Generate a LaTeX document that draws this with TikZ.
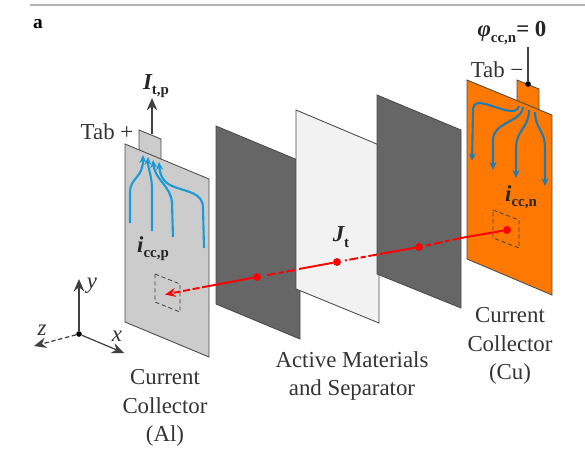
\documentclass[tikz,border=0pt]{standalone}
\usepackage{fontspec}
\setmainfont{Liberation Serif}
\usetikzlibrary{arrows.meta}
\newcommand{\lowsub}[1]{\raisebox{-0.5ex}{\fontsize{8.5}{10}\selectfont\bfseries\upshape #1}}
\begin{document}
\begin{tikzpicture}[
  x=0.02cm, y=-0.02cm,
  plate/.style={draw=black!70, line width=0.5pt},
  txt/.style={font=\fontsize{13}{16.4}\selectfont, text=black!80, align=center, inner sep=0pt},
  sym/.style={font=\fontsize{13}{16}\selectfont\bfseries\itshape, text=black!85, inner sep=0pt},
  axis/.style={-{Stealth[length=7pt,width=6pt]}, black!75, line width=0.7pt},
  window/.style={draw=black!75, dashed, dash pattern=on 2.4pt off 1.6pt, line width=0.45pt},
  bluep/.style={-{Stealth[length=4.5pt,width=4pt]}, color={rgb,255:red,26;green,154;blue,214}, line width=1.2pt},
  bluen/.style={-{Stealth[length=4.5pt,width=4pt]}, color={rgb,255:red,31;green,122;blue,184}, line width=1.2pt},
  curr/.style={red, line width=1.1pt},
  currd/.style={curr, dash pattern=on 5pt off 1.5pt on 3pt off 1.5pt},
  dot/.style={circle, fill=red, inner sep=0pt, minimum size=4.5pt},
  blackdot/.style={circle, fill=black, inner sep=0pt, minimum size=3.2pt}
]
\useasboundingbox (0,0) rectangle (585,450);
% Top rule and panel letter
\draw[black!30, line width=0.7pt] (30,5) -- (585,5);
\node[font=\fontsize{11}{13}\selectfont\bfseries, inner sep=0pt] (panel) at (38,24) {a};
% Al collector
\filldraw[plate, fill=black!20] (139,130) -- (161,139) -- (161,165) -- (139,155) -- cycle;
\filldraw[plate, fill=black!20] (125,144) -- (209,179) -- (209,357) -- (125,322) -- cycle;
\draw[window] (155,274) -- (180,284) -- (180,312) -- (155,302) -- cycle;
% Separator stack
\filldraw[plate, fill=black!60] (216,126) -- (300,161) -- (300,339) -- (216,304) -- cycle;
\filldraw[plate, fill=black!5]  (296,110) -- (379,145) -- (379,323) -- (296,289) -- cycle;
\filldraw[plate, fill=black!60] (377,95) -- (461,130) -- (461,308) -- (377,274) -- cycle;
% Cu collector
\filldraw[plate, fill=orange!95!red] (517,80) -- (539,89) -- (539,115) -- (517,105) -- cycle;
\filldraw[plate, fill=orange!95!red] (467,80) -- (552,115) -- (552,295) -- (467,259) -- cycle;
\draw[window] (493,210) -- (519,220) -- (519,248) -- (493,238) -- cycle;
% Current paths in Al
\draw[bluep] (130,223) -- (130,192) .. controls (130,178) and (143,178) .. (143,155);
\draw[bluep] (152,231) -- (152,190) .. controls (152,175) and (148,170) .. (148,157);
\draw[bluep] (173,237) -- (172,203) .. controls (171,186) and (155,180) .. (153,160);
\draw[bluep] (204,248) -- (203,208) .. controls (203,192) and (186,192) .. (172,186) .. controls (163,182) and (160,175) .. (159,162);
% Current paths in Cu
\draw[bluen] (519,106) .. controls (516,118) and (495,105) .. (480,103) .. controls (474,103) and (473,106) .. (473,112) -- (472,161);
\draw[bluen] (523,107) .. controls (522,122) and (493,122) .. (493,140) -- (493,170);
\draw[bluen] (529,110) .. controls (529,128) and (516,130) .. (516,148) -- (516,178);
\draw[bluen] (535,112) .. controls (536,132) and (545,128) .. (545,150) -- (545,186);
% Through-plane current
\node[dot] (da) at (507,230) {};
\node[dot] (db) at (419,247) {};
\node[dot] (dc) at (337,262) {};
\node[dot] (dd) at (257,277) {};
\coordinate (e1) at (461,238);
\coordinate (e2) at (426,245.5);
\coordinate (e3) at (380,254);
\coordinate (e4) at (345,260.5);
\coordinate (e5) at (377,254.5);
\coordinate (e6) at (299,269);
\coordinate (e7) at (265,275.5);
\coordinate (e8) at (295,270);
\coordinate (e9) at (209,286);
\coordinate (tip) at (165,294.5);
\draw[curr] (da) -- (e1);
\draw[currd] (e1) -- (e2);
\draw[curr] (db) -- (e3);
\draw[currd] (e5) -- (e4);
\draw[curr] (dc) -- (e6);
\draw[currd] (e8) -- (e7);
\draw[curr] (dd) -- (e9);
\draw[curr, dash pattern=on 4pt off 1.5pt, -{Stealth[length=6pt,width=5pt]}] (e9) -- (tip);
% Axes
\node[blackdot] (org) at (79,334) {};
\coordinate (ya) at (79,279);
\coordinate (xa) at (124,353);
\coordinate (za) at (34,346);
\draw[axis] (org) -- (ya);
\draw[axis] (org) -- (xa);
\draw[axis, dashed, dash pattern=on 2.5pt off 1.5pt] (org) -- (za);
\node[font=\fontsize{13}{16}\selectfont\itshape, text=black!80, inner sep=0pt] (ylab) at (92,286) {y};
\node[font=\fontsize{13}{16}\selectfont\itshape, text=black!80, inner sep=0pt] (xlab) at (117,336) {x};
\node[font=\fontsize{13}{16}\selectfont\itshape, text=black!80, inner sep=0pt] (zlab) at (42,330) {z};
% Tab terminals
\coordinate (tp) at (152,134);
\coordinate (tq) at (152,98);
\draw[axis] (tp) -- (tq);
\node[blackdot] (tn) at (528,84) {};
\coordinate (tm) at (528,47);
\draw[black!75, line width=0.7pt] (tm) -- (tn);
% Labels
\node[sym] (itp) at (156,86) {I\lowsub{t,p}};
\node[txt] (tabp) at (107,132) {Tab +};
\node[sym] (phi) at (512,33) {φ\lowsub{cc,n}\upshape= 0};
\node[txt] (tabn) at (497,70) {Tab −};
\node[sym] (icp) at (153,249) {i\lowsub{cc,p}};
\node[sym] (icn) at (521,197) {i\lowsub{cc,n}};
\node[sym] (jt) at (341,237) {J\lowsub{t}};
\node[txt] (capal) at (165,408) {Current\\Collector\\(Al)};
\node[txt] (capsep) at (352,376) {Active Materials\\and Separator};
\node[txt] (capcu) at (510,346) {Current\\Collector\\(Cu)};
\end{tikzpicture}
\end{document}
